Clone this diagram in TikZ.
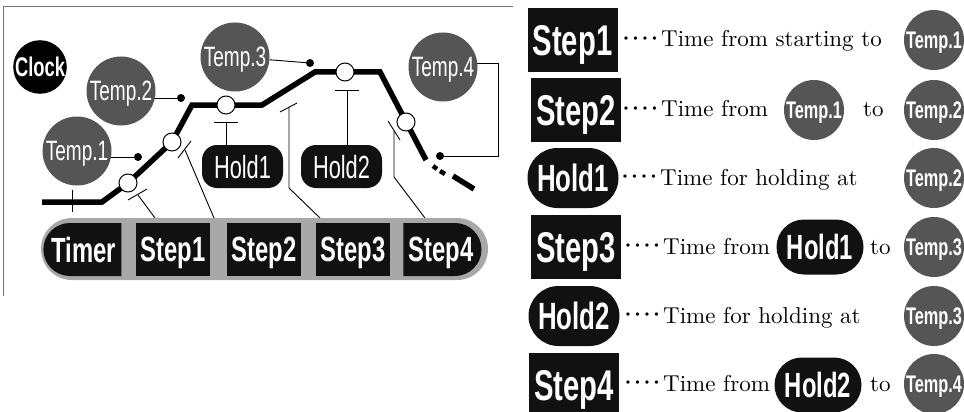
\documentclass[tikz,border=0pt]{standalone}
\usepackage{fontspec}
\usetikzlibrary{shapes.misc}
\newfontfamily\cf{Liberation Sans}[FakeStretch=0.68]
\newfontfamily\serifw{lmroman10-regular.otf}
\newcommand\onedot{\makebox[9.5pt][c]{\fontsize{32}{32}\selectfont\raisebox{-2.5pt}{·}}}
\newcommand\fourdots{\onedot\onedot\onedot\onedot\kern2pt}
\definecolor{tgray}{HTML}{555555}
\definecolor{bargray}{HTML}{A8A8A8}
\definecolor{blk}{HTML}{111111}
\pgfdeclarelayer{bg}
\pgfsetlayers{bg,main}
\tikzset{
 frame/.style={draw=black!55, line width=1pt},
 prof/.style={line width=5.5pt, black},
 tick/.style={line width=0.9pt, black},
 openc/.style={circle, draw=black, line width=1pt, fill=white, minimum size=18pt, inner sep=0pt},
 dotc/.style={circle, fill=black, minimum size=8pt, inner sep=0pt},
 clockc/.style={circle, fill=black, minimum size=53pt, inner sep=0pt, text=white, text depth=0pt, font=\cf\bfseries\fontsize{27}{27}\selectfont},
 tempL/.style={circle, fill=tgray, minimum size=69pt, inner sep=0pt, text=white, text depth=0pt, font=\cf\fontsize{28}{28}\selectfont},
 tempR/.style={circle, fill=tgray, minimum size=60pt, inner sep=0pt, text=white, text depth=0pt, font=\cf\bfseries\fontsize{24}{24}\selectfont},
 holdL/.style={rectangle, rounded corners=15pt, fill=blk, minimum width=81pt, minimum height=43pt, inner sep=0pt, text=white, text depth=0pt, font=\cf\fontsize{32}{32}\selectfont},
 barbg/.style={rounded rectangle, fill=bargray, minimum width=447pt, minimum height=62pt, inner sep=0pt},
 barbox/.style={rectangle, fill=blk, minimum width=74pt, minimum height=53pt, inner sep=0pt, text=white, text depth=0pt, font=\cf\bfseries\fontsize{35}{35}\selectfont},
 barend/.style={rounded rectangle, fill=blk, minimum width=78pt, minimum height=53pt, inner sep=0pt, text=white, text depth=0pt, font=\cf\bfseries\fontsize{35}{35}\selectfont},
 stepR/.style={rectangle, fill=blk, minimum width=90pt, minimum height=64pt, inner sep=0pt, text=white, text depth=0pt, font=\cf\bfseries\fontsize{43}{43}\selectfont},
 pillR/.style={rounded rectangle, fill=blk, minimum width=91pt, minimum height=60pt, inner sep=0pt, text=white, text depth=0pt, font=\cf\bfseries\fontsize{38}{38}\selectfont},
 pillM/.style={rounded rectangle, fill=blk, minimum width=87pt, minimum height=55pt, inner sep=0pt, text=white, text depth=0pt, font=\cf\bfseries\fontsize{35}{35}\selectfont},
 desc/.style={anchor=base west, inner sep=0pt, font=\serifw\fontsize{23}{23}\selectfont},
}
\begin{document}
\begin{tikzpicture}[x=1pt,y=-1pt]
\useasboundingbox (0,0) rectangle (964,412);
\begin{pgfonlayer}{bg}
\fill[white] (0,0) rectangle (964,412);
\end{pgfonlayer}
% frame
\draw[frame] (3,296) -- (3,7) -- (513,7);
% temperature profile
\draw[prof] (42,202) -- (102,202) -- (128,183) -- (172,142) -- (192,105) -- (262,105) -- (315,72) -- (380,72) -- (426,160);
\draw[line width=4.5pt] (433,166) -- (437,169) (440,171) -- (445,174);
\draw[prof] (453,176) -- (474,189);
% timer tick
\draw[tick] (72,190) -- (72,212);
% step ticks and leaders
\coordinate (s1a) at (128,200); \coordinate (s1b) at (147,189);
\coordinate (s1m) at (138,195); \coordinate (s1e) at (155,218);
\draw[tick] (s1a) -- (s1b); \draw[tick] (s1m) -- (s1e);
\coordinate (s2a) at (178,158); \coordinate (s2b) at (191,141);
\coordinate (s2m) at (185,150); \coordinate (s2e) at (214,218);
\draw[tick] (s2a) -- (s2b); \draw[tick] (s2m) -- (s2e);
\coordinate (s3a) at (280,112); \coordinate (s3b) at (297,103);
\coordinate (s3m) at (289,107); \coordinate (s3k) at (289,188); \coordinate (s3e) at (320,218);
\draw[tick] (s3a) -- (s3b); \draw[tick] (s3m) -- (s3k) -- (s3e);
\coordinate (s4a) at (388,121); \coordinate (s4b) at (400,140);
\coordinate (s4m) at (394,131); \coordinate (s4k) at (394,177); \coordinate (s4e) at (425,218);
\draw[tick] (s4a) -- (s4b); \draw[tick] (s4m) -- (s4k) -- (s4e);
% open circles on profile
\node[openc] (c1) at (128,183) {};
\node[openc] (c2) at (172,142) {};
\node[openc] (c3) at (226,105) {};
\node[openc] (c4) at (345,72) {};
\node[openc] (c5) at (406,122) {};
% clock and temperatures
\node[clockc] (clock) at (40,67) {Clock};
\node[tempL] (t1) at (77,151) {Temp.1};
\node[tempL] (t2) at (121,91) {Temp.2};
\node[tempL] (t3) at (235,57) {Temp.3};
\node[tempL] (t4) at (443,67) {Temp.4};
\node[dotc] (d1) at (138,157) {};
\node[dotc] (d2) at (181,98) {};
\node[dotc] (d3) at (310,63) {};
\node[dotc] (d4) at (440,156) {};
\coordinate (k4) at (498,63);
\begin{pgfonlayer}{bg}
\draw[tick] (t1.center |- d1) -- (d1);
\draw[tick] (t2.center |- d2) -- (d2);
\draw[tick] (t3) -- (d3);
\draw[tick] (t4.center |- k4) -- (k4) -- (k4 |- d4) -- (d4);
\end{pgfonlayer}
% holds
\node[holdL] (h1) at (242.5,166.5) {Hold1};
\node[holdL] (h2) at (341.5,166.5) {Hold2};
\coordinate (h1t) at (226,122);
\coordinate (h2t) at (347,90);
\draw[tick] ([xshift=-12pt]h1t) -- ([xshift=12pt]h1t);
\draw[tick] (h1t) -- (h1t |- h1.north);
\draw[tick] ([xshift=-12pt]h2t) -- ([xshift=12pt]h2t);
\draw[tick] (h2t) -- (h2t |- h2.north);
% timer bar
\node[barbg] (bar) at (264.5,249) {};
\node[barend, rounded rectangle east arc=none] (timer) at (84,249.5) {Timer};
\node[barbox] (b1) at (173,249.5) {Step1};
\node[barbox] (b2) at (264,249.5) {Step2};
\node[barbox] (b3) at (353,249.5) {Step3};
\node[barend, rounded rectangle west arc=none] (b4) at (441,249.5) {Step4};
% right panel
\node[stepR] (r1) at (572.5,40) {Step1};
\node[desc] (r1d) at (621,47) {\fourdots Time from starting to};
\node[tempR] (r1t) at (934,40) {Temp.1};

\node[stepR] (r2) at (576,110) {Step2};
\node[desc] (r2d) at (621,117) {\fourdots Time from};
\node[tempR] (r2m) at (814,110) {Temp.1};
\node[desc] (r2to) at (863,117) {to};
\node[tempR] (r2t) at (934,110) {Temp.2};

\node[pillR] (r3) at (573,178) {Hold1};
\node[desc] (r3d) at (620,185) {\fourdots Time for holding at};
\node[tempR] (r3t) at (934,178) {Temp.2};

\node[stepR] (r4) at (576,247) {Step3};
\node[desc] (r4d) at (623,254) {\fourdots Time from};
\node[pillM] (r4m) at (820,247) {Hold1};
\node[desc] (r4to) at (870,254) {to};
\node[tempR] (r4t) at (934,247) {Temp.3};

\node[pillR] (r5) at (574,316) {Hold2};
\node[desc] (r5d) at (623,323) {\fourdots Time for holding at};
\node[tempR] (r5t) at (934,316) {Temp.3};

\node[stepR] (r6) at (574,385) {Step4};
\node[desc] (r6d) at (623,391) {\fourdots Time from};
\node[pillM] (r6m) at (818,385) {Hold2};
\node[desc] (r6to) at (870,391) {to};
\node[tempR] (r6t) at (934,384) {Temp.4};
\end{tikzpicture}
\end{document}
